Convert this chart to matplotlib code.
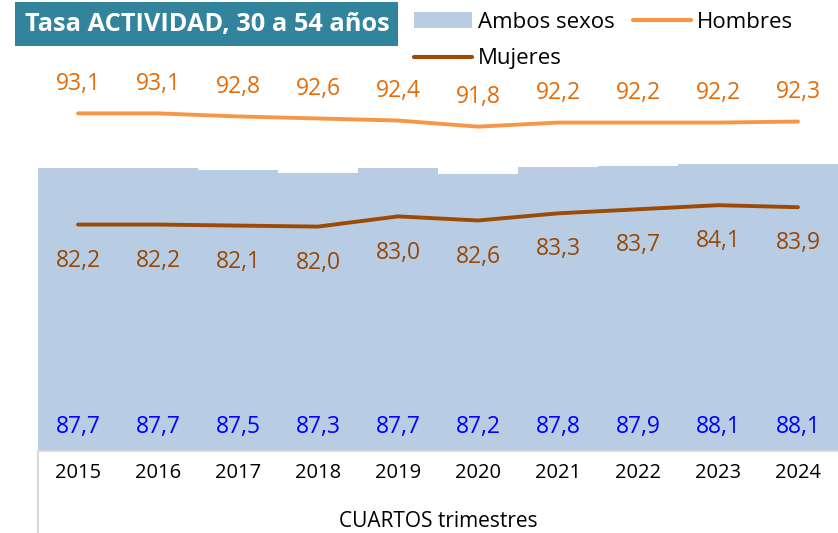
import matplotlib
matplotlib.use("Agg")
import matplotlib.pyplot as plt
from matplotlib.patches import Patch, Rectangle
from matplotlib.lines import Line2D

plt.rcParams['font.family'] = ['Open Sans', 'DejaVu Sans']

years = ['2015', '2016', '2017', '2018', '2019', '2020', '2021', '2022', '2023', '2024']
ambos = [87.7, 87.7, 87.5, 87.3, 87.7, 87.2, 87.8, 87.9, 88.1, 88.1]
hombres = [93.1, 93.1, 92.8, 92.6, 92.4, 91.8, 92.2, 92.2, 92.2, 92.3]
mujeres = [82.2, 82.2, 82.1, 82.0, 83.0, 82.6, 83.3, 83.7, 84.1, 83.9]

title = "Tasa ACTIVIDAD, 30 a 54 años"
xlabel = "CUARTOS trimestres"

C_AMBOS = '#B8CCE4'
C_HOM = '#F79646'
C_MUJ = '#9C4A06'
C_HOM_TXT = '#E46C0A'
C_MUJ_TXT = '#984807'
C_AMB_TXT = '#0000FF'

def fmt(v):
    return f"{v:.1f}".replace('.', ',')

fig = plt.figure(figsize=(8.38, 5.33), dpi=100)
W, H = 838, 533
ax = fig.add_axes([38 / W, (533 - 451) / H, 800 / W, 408 / H])
x = list(range(len(years)))
ax.bar(x, [a - 60 for a in ambos], bottom=60, width=1.0, color=C_AMBOS, linewidth=0)
ax.plot(x, hombres, color=C_HOM, lw=2.8, solid_capstyle='round')
ax.plot(x, mujeres, color=C_MUJ, lw=2.8, solid_capstyle='round')
ax.set_xlim(-0.5, len(years) - 0.5)
ax.set_ylim(60, 100)

for i in x:
    ax.annotate(fmt(hombres[i]), (i, hombres[i]), xytext=(0, 21), textcoords='offset points',
                ha='center', va='center', color=C_HOM_TXT, fontsize=16.5)
    ax.annotate(fmt(mujeres[i]), (i, mujeres[i]), xytext=(0, -26), textcoords='offset points',
                ha='center', va='center', color=C_MUJ_TXT, fontsize=16.5)
    ax.annotate(fmt(ambos[i]), (i, 60), xytext=(0, 17.5), textcoords='offset points',
                ha='center', va='center', color=C_AMB_TXT, fontsize=16.5)

ax.set_xticks(x)
ax.set_xticklabels(years, fontsize=14.5)
ax.tick_params(axis='x', length=0, pad=9)
ax.set_yticks([])
for s in ['top', 'right', 'left']:
    ax.spines[s].set_visible(False)
ax.spines['bottom'].set_color('#D9D9D9')
ax.spines['bottom'].set_linewidth(1.2)
ax.add_line(Line2D([0, 0], [0, -0.21], transform=ax.transAxes, color='#D9D9D9', lw=1.5, clip_on=False))
ax.set_xlabel(xlabel, fontsize=15, labelpad=20)

fig.patches.append(Rectangle((15 / W, 1 - 46 / H), 383 / W, 44 / H, transform=fig.transFigure,
                             facecolor='#31849B', edgecolor='none'))
fig.text(207 / W, 1 - 25 / H, title, ha='center', va='center', color='white', fontsize=18.3,
         fontweight='bold')

handles = [Patch(facecolor=C_AMBOS, edgecolor='none', label='Ambos sexos'),
           Line2D([0], [0], color=C_MUJ, lw=3, solid_capstyle='round', label='Mujeres'),
           Line2D([0], [0], color=C_HOM, lw=3, solid_capstyle='round', label='Hombres')]
fig.legend(handles=handles, ncol=2, loc='upper left', bbox_to_anchor=(405 / W, 1 - 3 / H),
           frameon=False, fontsize=16, handlelength=2.6, handletextpad=0.3,
           columnspacing=0.8, labelspacing=0.7, borderaxespad=0)

fig.savefig('out.png', dpi=100)
